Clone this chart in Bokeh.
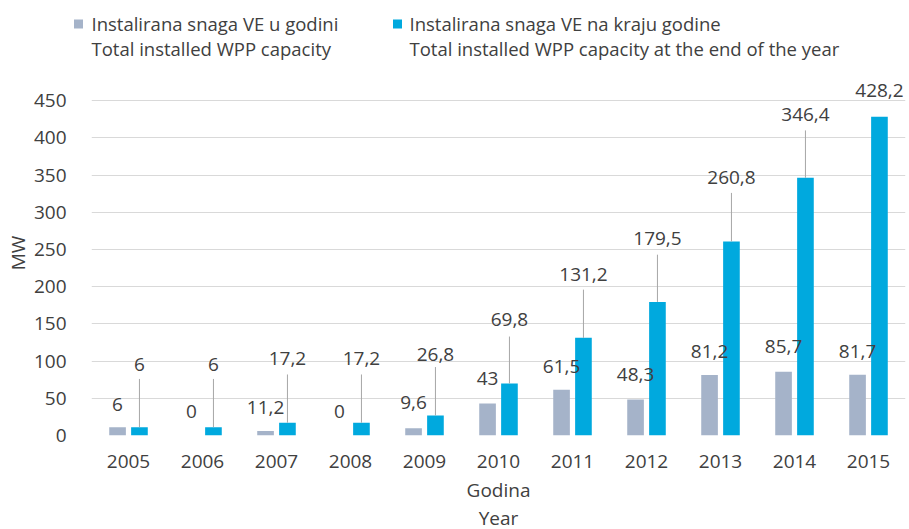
from bokeh.plotting import figure
from bokeh.models import Range1d, FixedTicker, ColumnDataSource
from bokeh.layouts import column
from bokeh.transform import dodge
from bokeh.core.properties import value
from bokeh.embed import file_html
from bokeh.resources import INLINE

# ---- data ----
years = ["2005", "2006", "2007", "2008", "2009", "2010", "2011", "2012", "2013", "2014", "2015"]
# bar heights as drawn (MW)
annual_bar = [11.2, 0, 6, 0, 9.6, 43, 61.5, 48.3, 81.2, 85.7, 81.7]
total_bar = [11.2, 11.2, 17.2, 17.2, 26.8, 69.8, 131.2, 179.5, 260.8, 346.4, 428.2]
# data label values as printed
annual_lbl = [6, 0, 11.2, 0, 9.6, 43, 61.5, 48.3, 81.2, 85.7, 81.7]
total_lbl = [6, 6, 17.2, 17.2, 26.8, 69.8, 131.2, 179.5, 260.8, 346.4, 428.2]
y_ticks = [0, 50, 100, 150, 200, 250, 300, 350, 400, 450]
series_names = [
    ["Instalirana snaga VE u godini", "Total installed WPP capacity"],
    ["Instalirana snaga VE na kraju godine", "Total installed WPP capacity at the end of the year"],
]
x_title = ["Godina", "Year"]
y_title = "MW"

# ---- label placement (positions, not data) ----
annual_lbl_y = [42, 32, 38, 32, 45, 76, 93, 82, 113, 119, 113]
total_lbl_y = [96, 96, 103, 103, 109, 156, 217, 265, 347, 432, 463]
leader_top = [76, 76, 82, 82, 92, 133, 196, 243, 326, 410, None]

GRAY = "#a5b3c9"
BLUE = "#00a9de"
TXT = "#404040"
FONT = "Open Sans"
TOTAL_W, TOTAL_H = 909, 529

def fmt(v):
    return str(int(v)) if float(v).is_integer() else str(v).replace(".", ",")

def strip(h):
    f = figure(width=TOTAL_W, height=h, x_range=Range1d(0, TOTAL_W), y_range=Range1d(h, 0),
               x_axis_type=None, y_axis_type=None, output_backend="svg", toolbar_location=None,
               min_border=0, min_border_left=0, min_border_right=0, min_border_top=0, min_border_bottom=0)
    f.outline_line_color = None
    f.xgrid.visible = False
    f.ygrid.visible = False
    f.frame_align = False
    return f

# ---------------- legend strip ----------------
LH = 70
leg = strip(LH)
leg_src = ColumnDataSource(dict(
    sx=[78, 397], sy=[23.5, 23.5], color=[GRAY, BLUE],
    tx=[91, 409], l1=[n[0] for n in series_names], l2=[n[1] for n in series_names],
))
leg.rect(x="sx", y="sy", width=9, height=9, color="color", line_color=None, source=leg_src)
for col, yy in (("l1", 23), ("l2", 48)):
    leg.text(x="tx", y=yy, text=col, source=leg_src, text_font=value(FONT), text_font_size="18.5px",
             text_color=TXT, text_align="left", text_baseline="middle")

# ---------------- main chart ----------------
xs = list(range(len(years)))
src = ColumnDataSource(dict(
    x=xs, annual=annual_bar, total=total_bar,
    a_txt=[fmt(v) for v in annual_lbl], t_txt=[fmt(v) for v in total_lbl],
    a_y=annual_lbl_y, t_y=total_lbl_y,
))
lx = [x for x, t in zip(xs, leader_top) if t is not None]
lsrc = ColumnDataSource(dict(
    x=lx,
    y0=[t for t in leader_top if t is not None],
    y1=[total_bar[i] for i in lx],
))

YH = 24  # bottom strip holding the second line of the x title
H = TOTAL_H - LH - YH
LEFT, RIGHT, BOTTOM = 91, 4, 68
PX_PER_MW = 0.7482
y_end = (H - BOTTOM) / PX_PER_MW

p = figure(width=TOTAL_W, height=H, x_range=Range1d(-0.5, len(years) - 0.5), y_range=Range1d(0, y_end),
           output_backend="svg", toolbar_location=None,
           min_border_left=LEFT, min_border_right=RIGHT, min_border_top=0, min_border_bottom=BOTTOM)
p.outline_line_color = None
p.frame_align = False

OFF = 0.148
BW = 0.225
p.vbar(x=dodge("x", -OFF, range=p.x_range), top="annual", width=BW, source=src, color=GRAY, line_color=None)
p.vbar(x=dodge("x", OFF, range=p.x_range), top="total", width=BW, source=src, color=BLUE, line_color=None)

p.segment(x0=dodge("x", OFF, range=p.x_range), x1=dodge("x", OFF, range=p.x_range),
          y0="y0", y1="y1", source=lsrc, line_color="#a6a6a6", line_width=1)

p.text(x=dodge("x", -OFF, range=p.x_range), y="a_y", text="a_txt", source=src,
       text_font=value(FONT), text_font_size="19px", text_color=TXT,
       text_align="center", text_baseline="middle")
p.text(x=dodge("x", OFF, range=p.x_range), y="t_y", text="t_txt", source=src,
       text_font=value(FONT), text_font_size="19px", text_color=TXT,
       text_align="center", text_baseline="middle")

# axes
p.xaxis.ticker = FixedTicker(ticks=xs)
p.xaxis.major_label_overrides = {i: y for i, y in enumerate(years)}
p.yaxis.ticker = FixedTicker(ticks=y_ticks)
for ax in (p.xaxis[0], p.yaxis[0]):
    ax.axis_line_color = None
    ax.major_tick_line_color = None
    ax.minor_tick_line_color = None
    ax.major_label_text_font = FONT
    ax.major_label_text_font_size = "19px"
    ax.major_label_text_color = TXT
    ax.axis_label_text_font = FONT
    ax.axis_label_text_font_size = "19px"
    ax.axis_label_text_font_style = "normal"
    ax.axis_label_text_color = TXT
p.xaxis.major_label_standoff = 13
p.yaxis.major_label_standoff = 19
p.xaxis.axis_label = x_title[0]
p.xaxis.axis_label_standoff = 6
p.yaxis.axis_label = y_title
p.yaxis.axis_label_standoff = 0
p.xgrid.grid_line_color = None
p.ygrid.grid_line_color = "#d9d9d9"
p.ygrid.grid_line_width = 1

# ---------------- bottom strip: second line of x title ----------------
yr = strip(YH)
frame_mid = LEFT + (TOTAL_W - LEFT - RIGHT) / 2
yr.text(x=[frame_mid], y=[12], text=[x_title[1]], text_font=value(FONT), text_font_size="19px",
        text_color=TXT, text_align="center", text_baseline="middle")

layout = column(leg, p, yr, spacing=0)
open("out.html", "w").write(file_html(layout, INLINE))
